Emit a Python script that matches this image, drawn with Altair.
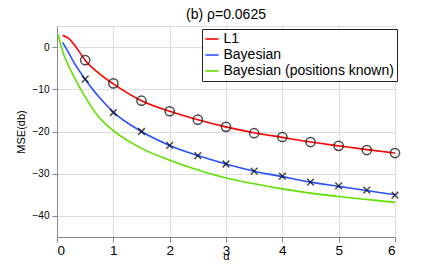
import altair as alt
import pandas as pd

# Curves
alpha = [0.1, 0.2, 0.3, 0.4, 0.5, 0.75, 1.0, 1.5, 2.0, 2.5, 3.0, 3.5, 4.0, 4.5, 5.0, 5.5, 6.0]
l1 = [2.8, 2.1, 0.7, -1.2, -3.1, -6.3, -8.7, -12.7, -15.2, -17.2, -18.9, -20.3, -21.4, -22.5, -23.4, -24.3, -25.1]
bayes = [1.1, -1.2, -3.6, -5.7, -7.6, -11.9, -15.4, -20.0, -23.3, -25.7, -27.7, -29.4, -30.7, -32.0, -33.0, -34.0, -35.0]
alpha_known = [0.02, 0.1, 0.2, 0.3, 0.4, 0.5, 0.75, 1.0, 1.5, 2.0, 2.5, 3.0, 3.5, 4.0, 4.5, 5.0, 5.5, 6.0]
known = [3.0, -1.0, -4.3, -7.0, -9.5, -11.8, -16.7, -19.8, -24.0, -26.8, -29.1, -31.0, -32.4, -33.6, -34.6, -35.4, -36.1, -36.8]

# Markers
alpha_m = [0.5, 1.0, 1.5, 2.0, 2.5, 3.0, 3.5, 4.0, 4.5, 5.0, 5.5, 6.0]
l1_m = [-3.1, -8.6, -12.7, -15.2, -17.2, -18.9, -20.4, -21.3, -22.5, -23.4, -24.4, -25.1]
bayes_m = [-7.6, -15.5, -20.0, -23.3, -25.7, -27.7, -29.4, -30.6, -32.0, -32.9, -33.9, -35.1]

series_names = ["L1", "Bayesian", "Bayesian (positions known)"]
series_colors = ["#ff0000", "#2a50ff", "#5ee000"]

x_ticks = [0, 1, 2, 3, 4, 5, 6]
y_ticks = [-40, -30, -20, -10, 0]

rows = []
for a, v in zip(alpha, l1):
    rows.append({"alpha": a, "mse": v, "series": series_names[0]})
for a, v in zip(alpha, bayes):
    rows.append({"alpha": a, "mse": v, "series": series_names[1]})
for a, v in zip(alpha_known, known):
    rows.append({"alpha": a, "mse": v, "series": series_names[2]})
df = pd.DataFrame(rows)

df_c = pd.DataFrame({"alpha": alpha_m, "mse": l1_m})
df_x = pd.DataFrame({"alpha": alpha_m, "mse": bayes_m})

FONT = "Liberation Sans"

xscale = alt.Scale(domain=[0, 6], nice=False)
yscale = alt.Scale(domain=[-45, 5], nice=False)

xaxis = alt.Axis(values=x_ticks, format="d", title="α", grid=True,
                 titleFontWeight="normal", titleBaseline="alphabetic",
                 titlePadding=3, labelPadding=1, labelFontSize=13.5)
yaxis = alt.Axis(values=y_ticks, format="d", title="MSE(db)", grid=True,
                 titleFontWeight="normal", titlePadding=6, labelPadding=3)

lines = alt.Chart(df).mark_line(strokeWidth=1.6, interpolate="monotone", clip=True).encode(
    x=alt.X("alpha:Q", scale=xscale, axis=xaxis),
    y=alt.Y("mse:Q", scale=yscale, axis=yaxis),
    color=alt.Color(
        "series:N",
        scale=alt.Scale(domain=series_names, range=series_colors),
        sort=series_names,
        legend=alt.Legend(
            title=None,
            orient="none",
            legendX=145,
            legendY=3,
            symbolType="stroke",
            symbolSize=170,
            symbolStrokeWidth=1.6,
            labelFont=FONT,
            labelFontSize=14,
            labelColor="#000",
            labelOffset=4,
            labelLimit=400,
            rowPadding=1,
            padding=2.5,
            strokeColor="#222",
            fillColor="white",
            cornerRadius=0,
        ),
    ),
)

circles = alt.Chart(df_c).mark_point(
    shape="circle", size=85, color="black", strokeWidth=1.5, filled=False, clip=False
).encode(x=alt.X("alpha:Q", scale=xscale), y=alt.Y("mse:Q", scale=yscale))

crosses = alt.Chart(df_x).mark_point(
    shape="M-1,-1L1,1M-1,1L1,-1", size=45, color="black", strokeWidth=1.5, filled=False, clip=False
).encode(x=alt.X("alpha:Q", scale=xscale), y=alt.Y("mse:Q", scale=yscale))

chart = (
    alt.layer(lines, circles, crosses)
    .properties(
        width=338,
        height=211,
        autosize=alt.AutoSizeParams(type="none"),
        padding={"left": 49, "top": 18, "right": 33, "bottom": 24},
        title=alt.TitleParams("(b) ρ=0.0625", font=FONT, fontSize=14, fontWeight="normal",
                              color="#000", anchor="middle", offset=4),
    )
    .configure_view(stroke="#888", strokeWidth=1)
    .configure_axis(
        labelFont=FONT,
        labelFontSize=14,
        labelColor="#000",
        titleFont=FONT,
        titleFontSize=14,
        titleFontWeight="normal",
        titleColor="#000",
        domainColor="#888",
        tickSize=0,
        gridColor="#cfcfcf",
        gridDash=[1, 2],
        gridWidth=1,
    )
    .configure(background="white")
)

chart.save("out.html", embed_options={"renderer": "svg", "actions": False})
